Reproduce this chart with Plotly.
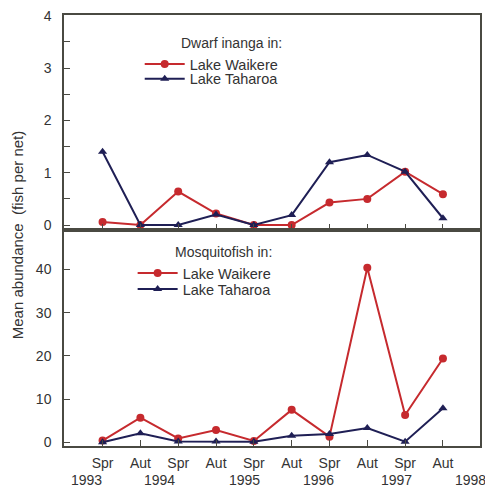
import plotly.graph_objects as go
from plotly.subplots import make_subplots

seasons = ["Spr", "Aut", "Spr", "Aut", "Spr", "Aut", "Spr", "Aut", "Spr", "Aut"]
x_idx = list(range(len(seasons)))
years = ["1993", "1994", "1995", "1996", "1997", "1998"]
year_pos = [-0.42, 1.5, 3.75, 5.72, 7.77, 9.74]

inanga_waikere = [0.06, 0.0, 0.64, 0.22, 0.0, 0.0, 0.43, 0.50, 1.02, 0.59]
inanga_taharoa = [1.40, 0.0, 0.0, 0.20, 0.0, 0.19, 1.20, 1.34, 1.02, 0.13]
mosq_waikere = [0.4, 5.7, 0.9, 2.85, 0.3, 7.5, 1.3, 40.4, 6.3, 19.4]
mosq_taharoa = [0.0, 2.1, 0.2, 0.2, 0.1, 1.5, 1.9, 3.3, 0.15, 7.9]

RED = "#c62a2e"
NAVY = "#1f1f55"
FRAME = "#4a4a42"
TXT = "#333333"
FONT = "Liberation Sans, Arial, sans-serif"

fig = make_subplots(rows=2, cols=1, shared_xaxes=False, vertical_spacing=0.0)

fig.add_trace(go.Scatter(x=x_idx, y=inanga_waikere, mode="lines+markers", name="Lake Waikere",
                         line=dict(color=RED, width=2), marker=dict(symbol="circle", size=8, color=RED),
                         legend="legend"), row=1, col=1)
fig.add_trace(go.Scatter(x=x_idx, y=inanga_taharoa, mode="lines+markers", name="Lake Taharoa",
                         line=dict(color=NAVY, width=2), marker=dict(symbol="triangle-up", size=8, color=NAVY),
                         legend="legend2"), row=1, col=1)
fig.add_trace(go.Scatter(x=x_idx, y=mosq_waikere, mode="lines+markers", name="Lake Waikere",
                         line=dict(color=RED, width=2), marker=dict(symbol="circle", size=8, color=RED),
                         legend="legend3"), row=2, col=1)
fig.add_trace(go.Scatter(x=x_idx, y=mosq_taharoa, mode="lines+markers", name="Lake Taharoa",
                         line=dict(color=NAVY, width=2), marker=dict(symbol="triangle-up", size=8, color=NAVY),
                         legend="legend4"), row=2, col=1)

axis_common = dict(showline=True, linecolor=FRAME, linewidth=1.5, mirror=True,
                   showgrid=False, zeroline=False, ticks="inside", ticklen=6,
                   tickcolor=FRAME, tickwidth=1.2,
                   tickfont=dict(family=FONT, size=14, color=TXT))

fig.update_xaxes(**axis_common, range=[-1.02, 9.98], tickvals=x_idx)
fig.update_xaxes(showticklabels=False, row=1, col=1)
fig.update_xaxes(ticktext=seasons, showticklabels=True, ticklabelstandoff=3, row=2, col=1)

fig.update_yaxes(**axis_common)
fig.update_yaxes(range=[-0.096, 4.015], tickvals=[0, 1, 2, 3, 4], ticklabelstandoff=8,
                 minor=dict(ticks="inside", tickvals=[0.5, 1.5, 2.5, 3.5], ticklen=6,
                            tickcolor=FRAME, tickwidth=1.2), row=1, col=1)
fig.update_yaxes(range=[-0.86, 49.1], tickvals=[0, 10, 20, 30, 40], ticklabelstandoff=8, row=2, col=1)

fig.update_layout(yaxis=dict(domain=[0.501, 1.0]), yaxis2=dict(domain=[0.0, 0.501]))

legend_common = dict(font=dict(family=FONT, size=14.5, color=TXT), bgcolor="rgba(0,0,0,0)",
                     xanchor="left", yanchor="middle", itemwidth=40, tracegroupgap=0)
fig.update_layout(
    legend=dict(**legend_common, x=0.182, y=0.886),
    legend2=dict(**legend_common, x=0.182, y=0.852),
    legend3=dict(**legend_common, x=0.165, y=0.401),
    legend4=dict(**legend_common, x=0.165, y=0.364),
)

annotations = []
annotations.append(dict(text="Dwarf inanga in:", x=0.2775, y=0.935, xref="paper", yref="paper",
                        xanchor="left", yanchor="middle", showarrow=False,
                        font=dict(family=FONT, size=14, color=TXT)))
annotations.append(dict(text="Mosquitofish in:", x=0.261, y=0.451, xref="paper", yref="paper",
                        xanchor="left", yanchor="middle", showarrow=False,
                        font=dict(family=FONT, size=14, color=TXT)))
for yr, pos in zip(years, year_pos):
    annotations.append(dict(text=yr, x=pos, y=-0.079, xref="x2", yref="paper",
                            xanchor="center", yanchor="middle", showarrow=False,
                            font=dict(family=FONT, size=14, color=TXT)))
annotations.append(dict(text="Mean abundance  (fish per net)", x=-0.112, y=0.49, xref="paper", yref="paper",
                        textangle=-90, xanchor="center", yanchor="middle", showarrow=False,
                        font=dict(family=FONT, size=15, color=TXT)))

fig.update_layout(
    width=485, height=488,
    margin=dict(l=64, r=3, t=15, b=42),
    paper_bgcolor="white", plot_bgcolor="white",
    annotations=annotations,
    showlegend=True,
)

fig.write_html("out.html", config={"displayModeBar": False},
               post_script="document.body.style.margin='0';document.body.style.overflow='hidden';")
